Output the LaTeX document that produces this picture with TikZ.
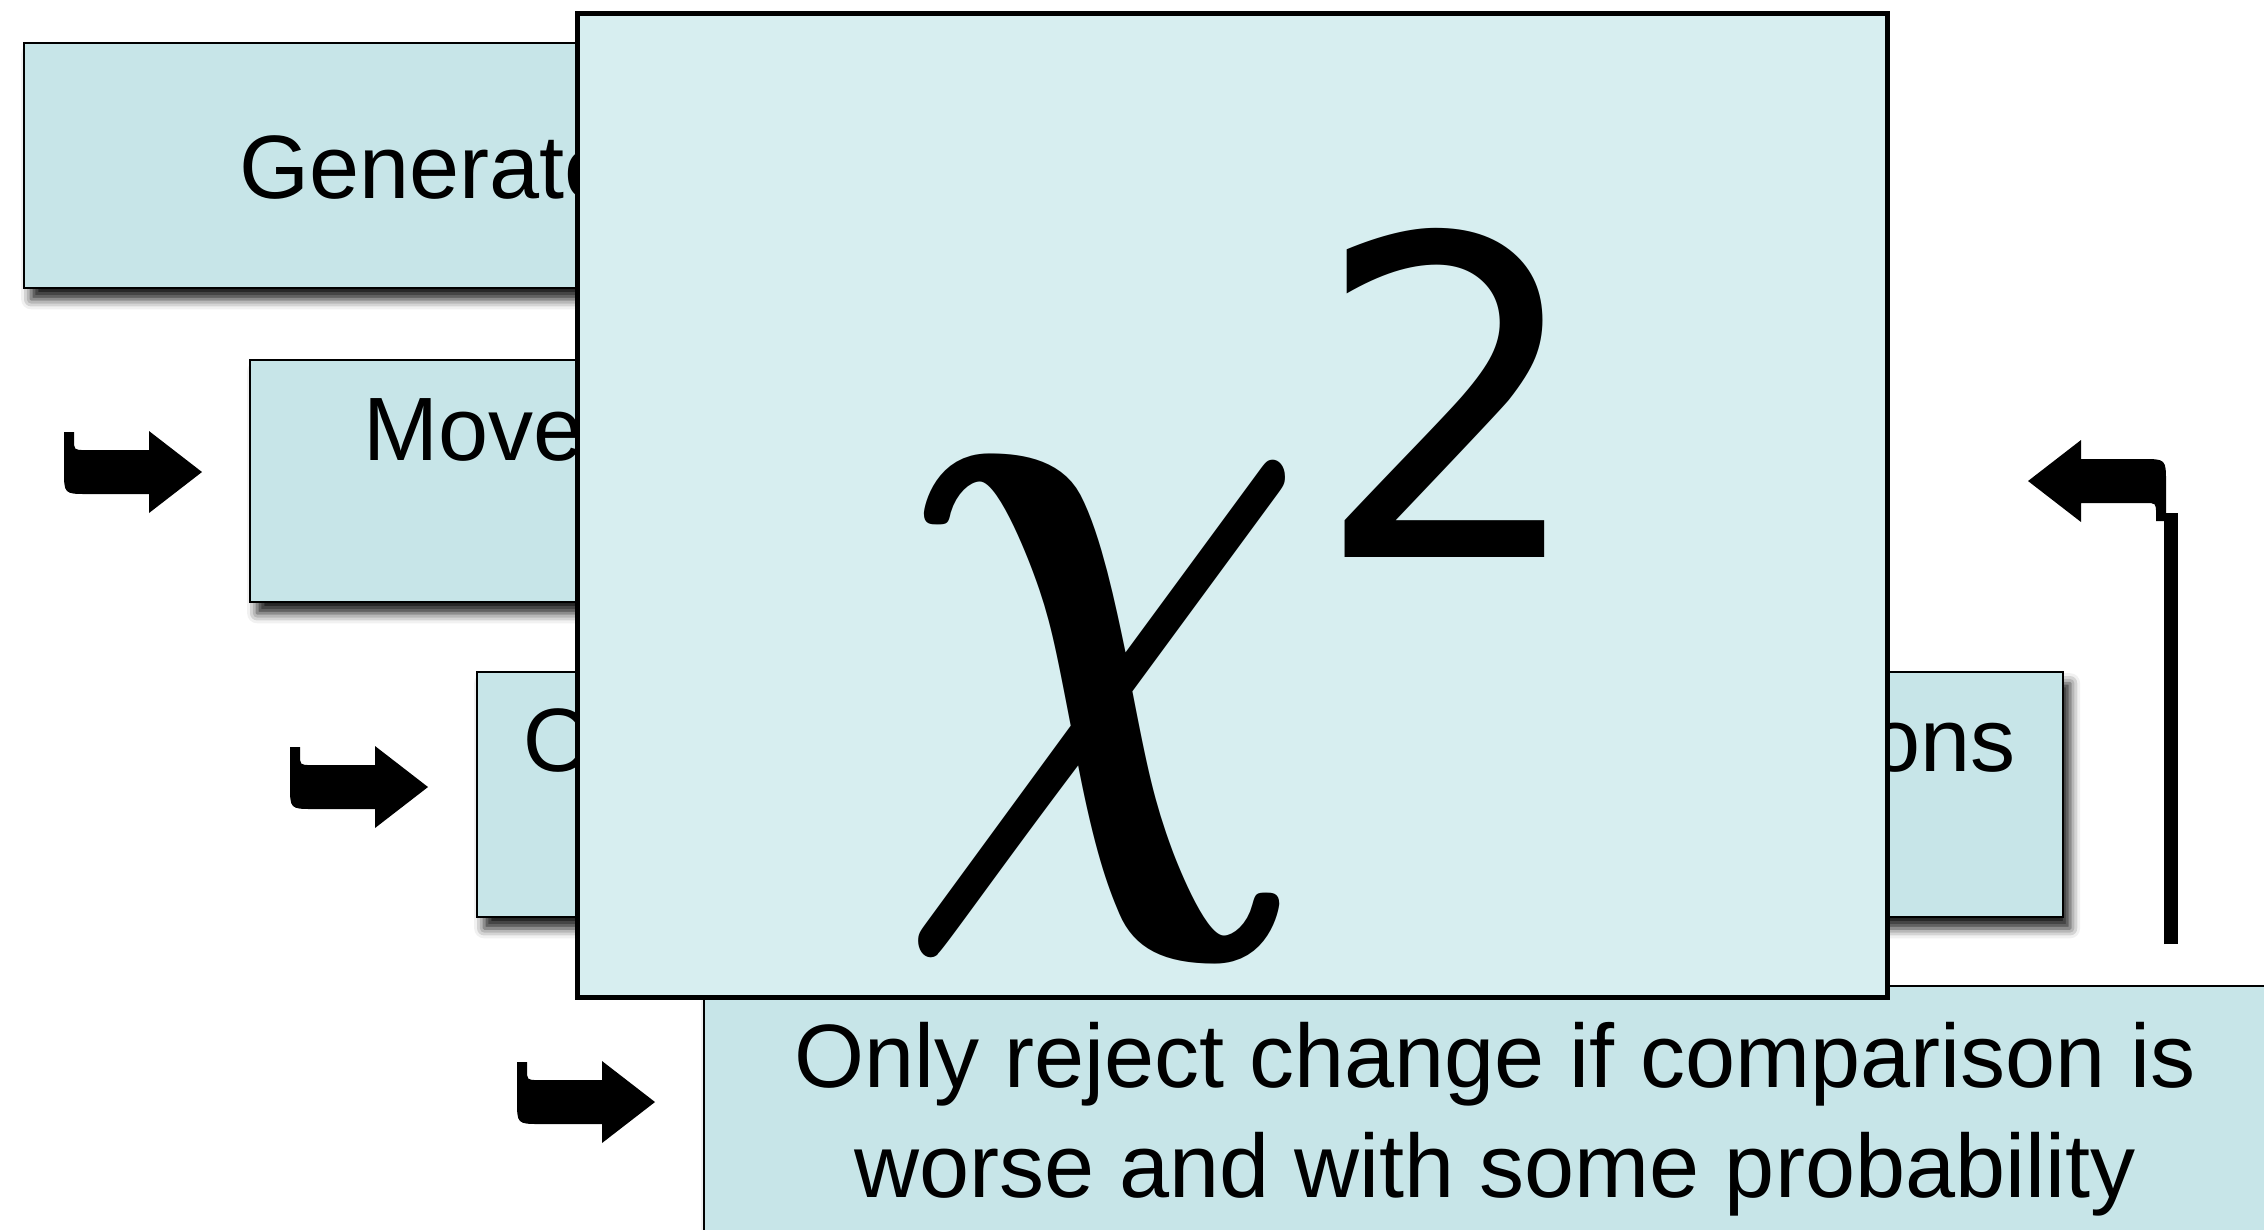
\documentclass[tikz,border=0pt]{standalone}
\usepackage{fontspec}
\usepackage{graphicx}
\setmainfont{Liberation Sans}
\newfontfamily\dvsans{DejaVu Sans}
\usetikzlibrary{shadows.blur}
\definecolor{boxfill}{HTML}{C7E5E8}
\definecolor{chifill}{HTML}{D7EEF0}
\begin{document}
\begin{tikzpicture}[x=0.01cm,y=-0.01cm,
  stepbox/.style={draw=black, line width=0.65pt, fill=boxfill, inner sep=0pt, anchor=north west,
    blur shadow={shadow xshift=0.07cm, shadow yshift=-0.11cm, shadow blur radius=0.1cm, shadow opacity=90}},
  chibox/.style={draw=black, line width=1.4pt, fill=chifill, inner sep=0pt, anchor=north west},
  lbl/.style={inner sep=0pt, font=\fontsize{25.6pt}{31pt}\selectfont},
  hookR/.pic={\fill (0,0) -- (-53,-41) -- (-53,-22) -- (-117,-22) .. controls (-128,-22) .. (-128,-33)
     -- (-128,-40) -- (-138,-40) -- (-138,-2) .. controls (-138,22) .. (-114,22) -- (-53,22) -- (-53,41) -- cycle;}
]
\useasboundingbox (0,0) rectangle (2264,1229);
\clip (0,0) rectangle (2264,1229);
% step boxes
\node[stepbox, minimum width=15.77cm, minimum height=2.45cm] (b1) at (23,42) {};
\node[lbl, anchor=base west] (t1) at (239,198) {Generate};
\node[stepbox, minimum width=14.51cm, minimum height=2.42cm] (b2) at (249,359) {};
\node[lbl, anchor=base west] (t2) at (363,460) {Move};
\node[stepbox, minimum width=15.85cm, minimum height=2.45cm] (b3) at (476,671) {};
\node[lbl, anchor=base west] (t3) at (523,771) {\makebox[14.91cm][l]{O\hfill ons}};
\node[stepbox, minimum width=15.97cm, minimum height=3.15cm] (b4) at (703,985) {};
\node[lbl, anchor=base] (t4a) at (1495,1087) {Only reject change if comparison is};
\node[lbl, anchor=base] (t4b) at (1495,1197) {worse and with some probability};
% chi-square box
\node[chibox, minimum width=13.09cm, minimum height=9.83cm] (cb) at (575,11) {};
\node[inner sep=0pt, anchor=north west] (chi) at (897,459) {\resizebox*{4.1cm}{4.97cm}{\boldmath$\chi$}};
\node[inner sep=0pt, anchor=north west] (two) at (1313,228) {\resizebox*{2.74cm}{3.29cm}{\dvsans 2}};
% hook arrows
\pic (a2) at (202,472) {hookR};
\pic (a3) at (428,787) {hookR};
\pic (a4) at (655,1102) {hookR};
\pic[rotate=180] (ar) at (2028,481) {hookR};
\coordinate (vtop) at (2171,513);
\coordinate (vbot) at (2171,944);
\draw[line width=0.14cm] (vbot) -- (vtop);
\end{tikzpicture}
\end{document}
